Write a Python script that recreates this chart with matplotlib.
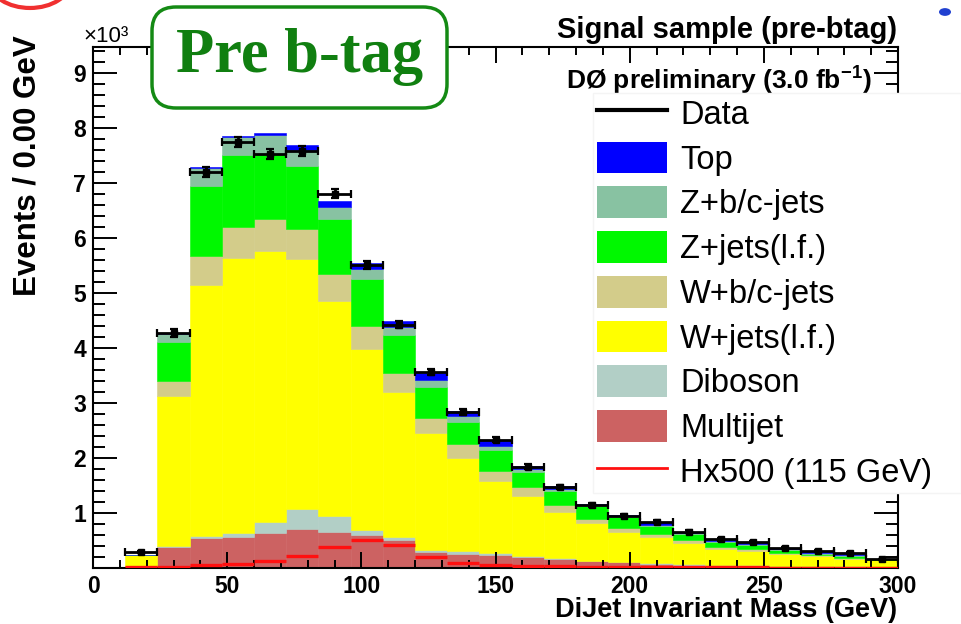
import numpy as np
import matplotlib
matplotlib.use("Agg")
import matplotlib.pyplot as plt
from matplotlib.patches import Patch, FancyBboxPatch, Circle
from matplotlib.lines import Line2D
from matplotlib.ticker import MultipleLocator

plt.rcParams["font.family"] = ["Liberation Sans", "DejaVu Sans"]
plt.rcParams["mathtext.fontset"] = "custom"
plt.rcParams["mathtext.rm"] = "Liberation Sans:bold"
plt.rcParams["mathtext.bf"] = "Liberation Sans:bold"

W, H = 961, 624

# bins of 12 GeV from 12 to 300, values in units of 10^3 events
BIN_EDGES = np.arange(12, 301, 12)

multijet = [0, .38, .55, .57, .64, .70, .66, .60, .51, .29, .26, .24,
            .20, .16, .12, .10, .08, .06, .05, .04, .03, .03, .02, .02]
diboson = [0, .02, .03, .07, .20, .37, .29, .09, .05, .04, .04, .03,
           .02, .02, .01, .01, .01, .01, .01, .01, .01, .00, .01, .00]
w_lf = [.24, 2.73, 4.57, 5.00, 4.92, 4.54, 3.90, 3.29, 2.64, 2.12, 1.70, 1.31,
        1.09, .84, .69, .54, .47, .39, .28, .26, .21, .19, .13, .12]
w_bc = [0, .27, .52, .56, .59, .55, .50, .42, .35, .28, .25, .18,
        .16, .13, .07, .08, .06, .04, .04, .03, .03, .02, .03, .01]
z_lf = [0, .71, 1.28, 1.30, 1.18, 1.15, 1.00, .85, .69, .56, .40, .39,
        .28, .25, .23, .19, .15, .11, .09, .08, .05, .02, .03, .02]
z_bc = [0, .14, .32, .34, .34, .29, .21, .19, .14, .13, .11, .07,
        .05, .03, .02, .02, .02, .02, .02, .02, .01, .02, .01, .00]
top = [0, .01, .02, .02, .04, .09, .11, .11, .11, .13, .10, .10,
       .06, .06, .03, .02, .04, .02, .01, .03, .02, .02, .02, .00]
data = [.29, 4.27, 7.20, 7.74, 7.53, 7.58, 6.80, 5.50, 4.42, 3.56, 2.83, 2.33,
        1.84, 1.47, 1.15, .95, .84, .66, .52, .47, .36, .31, .27, .16]
higgs_x500 = [.01, .02, .05, .08, .13, .22, .38, .51, .42, .20, .09, .06,
              .04, .03, .02, .02, .01, .01, .01, .01, 0, 0, 0, 0]

STACK = [
    ("Multijet", multijet, "#cc6262"),
    ("Diboson", diboson, "#b2cfc6"),
    ("W+jets(l.f.)", w_lf, "#ffff00"),
    ("W+b/c-jets", w_bc, "#d3cc8a"),
    ("Z+jets(l.f.)", z_lf, "#00f800"),
    ("Z+b/c-jets", z_bc, "#88c2a2"),
    ("Top", top, "#0000ff"),
]


def px(x, y):
    return x / W, 1 - y / H


fig = plt.figure(figsize=(W / 100, H / 100), dpi=100)
fig.patch.set_facecolor("white")
ax = fig.add_axes([93 / W, 1 - 568 / H, (898 - 93) / W, (568 - 47) / H])

lefts = BIN_EDGES[:-1]
widths = np.diff(BIN_EDGES)
centers = lefts + widths / 2

bottom = np.zeros(len(lefts))
for nome, vals, col in STACK:
    vals = np.array(vals, dtype=float)
    ax.bar(lefts, vals, width=widths, bottom=bottom, align="edge",
           color=col, edgecolor=col, lw=0.4, zorder=1)
    bottom = bottom + vals

ax.hlines(higgs_x500, lefts, lefts + widths, color="#ff1010", lw=2.4, zorder=3)

data = np.array(data)
err = np.sqrt(data * 1000) / 1000
ax.errorbar(centers, data, xerr=widths / 2, yerr=err, fmt="s", color="black",
            ms=4, elinewidth=2, capsize=3, capthick=1.6, zorder=4)

ax.set_xlim(0, 300)
ax.set_ylim(0, 9.47)
ax.xaxis.set_major_locator(MultipleLocator(50))
ax.xaxis.set_minor_locator(MultipleLocator(10))
ax.set_yticks(range(1, 10))
ax.yaxis.set_minor_locator(MultipleLocator(0.2))
ax.tick_params(which="both", direction="in", top=True, right=True,
               width=1.4, labelsize=16.5)
ax.tick_params(axis="y", which="major", length=17)
ax.tick_params(axis="y", which="minor", length=8.5)
ax.tick_params(axis="x", which="major", length=11.5)
ax.tick_params(axis="x", which="minor", length=6)
ax.tick_params(axis="x", pad=5)
ax.tick_params(axis="y", pad=5)
for lab in ax.get_xticklabels() + ax.get_yticklabels():
    lab.set_fontweight("bold")
for sp in ax.spines.values():
    sp.set_linewidth(1.5)

fig.text(*px(83, 36), "×10³", fontsize=16, ha="left", va="center")
fig.text(*px(28, 35), "Events / 0.00 GeV", rotation=90, fontsize=22.5,
         fontweight="bold", ha="center", va="top")
fig.text(*px(897, 610), "DiJet Invariant Mass (GeV)", fontsize=19.5,
         fontweight="bold", ha="right", va="center")
fig.text(*px(897, 30), "Signal sample (pre-btag)", fontsize=21,
         fontweight="bold", ha="right", va="center")
fig.text(*px(872, 80), r"DØ preliminary (3.0 fb$^{\mathbf{-1}}$)", fontsize=19,
         fontweight="bold", ha="right", va="center")

handles = [Line2D([], [], color="black", lw=3)]
labels = ["Data"]
for nome, vals, col in STACK[::-1]:
    handles.append(Patch(facecolor=col, edgecolor="none"))
    labels.append(nome)
handles.append(Line2D([], [], color="#ff1010", lw=2))
labels.append("Hx500 (115 GeV)")

x0, y0 = px(593, 93)
leg = fig.legend(handles, labels, loc="upper left",
                 bbox_to_anchor=(x0, y0 - 0.7, 1 - x0, 0.7), mode="expand",
                 fontsize=23.5, frameon=True, fancybox=False, framealpha=1,
                 facecolor="white", edgecolor="#f4f4f4", borderpad=0.12,
                 handlelength=2.15, handleheight=1.12, handletextpad=0.4,
                 labelspacing=0.33, borderaxespad=0)

# riquadro "Pre b-tag"
bx0, by0 = px(152, 108)
bx1, by1 = px(447, 7)
box = FancyBboxPatch((bx0, by0), bx1 - bx0, by1 - by0,
                     boxstyle="round,pad=0,rounding_size=0.025",
                     transform=fig.transFigure, facecolor="white",
                     edgecolor="#148a14", lw=2.5, zorder=6,
                     mutation_aspect=W / H)
fig.patches.append(box)
fig.text(*px(300, 57), "Pre b-tag", family="Liberation Serif",
         fontweight="bold", fontsize=45, color="#107f10",
         ha="center", va="center", zorder=7)

# elementi della slide tagliati ai bordi
fig.patches.append(Circle(px(30, -18), 40 / W, transform=fig.transFigure,
                          fill=False, edgecolor="#f03030", lw=3))
fig.patches.append(Circle(px(945, 12), 6 / W, transform=fig.transFigure,
                          facecolor="#2040d0", edgecolor="none"))

fig.savefig("out.png", dpi=100)
